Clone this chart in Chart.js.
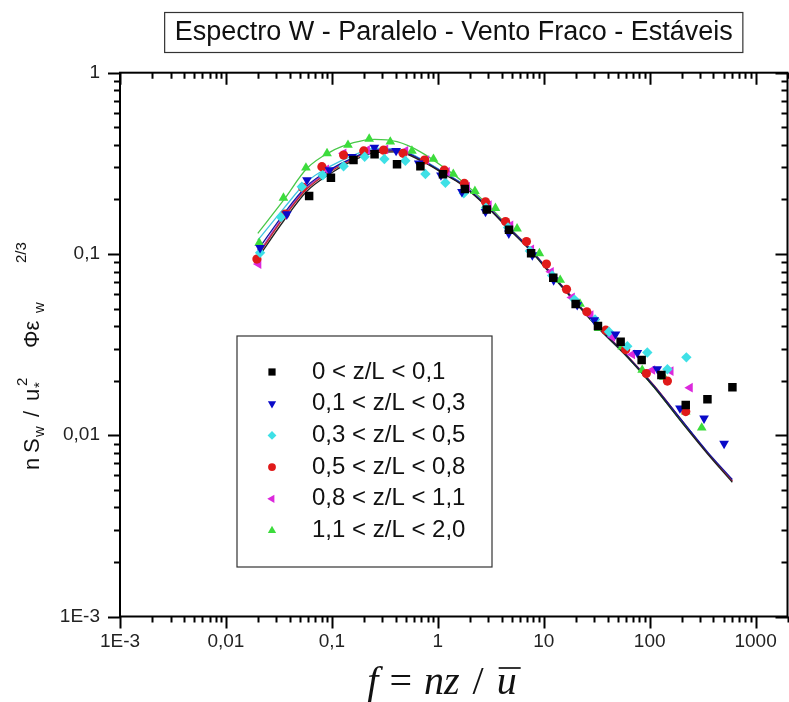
<!DOCTYPE html>
<html><head><meta charset="utf-8">
<script src="https://cdn.jsdelivr.net/npm/chart.js@4.4.0/dist/chart.umd.min.js"></script>
<style>html,body{margin:0;padding:0;background:#fff}#wrap{width:789px;height:702px;position:relative}</style>
</head><body><div id="wrap"><canvas id="c" width="789" height="702"></canvas></div>
<script>
const titleText = 'Espectro W - Paralelo - Vento Fraco - Estáveis';
const seriesLabels = ['0 < z/L < 0,1', '0,1 < z/L < 0,3', '0,3 < z/L < 0,5', '0,5 < z/L < 0,8', '0,8 < z/L < 1,1', '1,1 < z/L < 2,0'];
const xTickValues = [0.001, 0.01, 0.1, 1, 10, 100, 1000];
const xTickLabels = ['1E-3', '0,01', '0,1', '1', '10', '100', '1000'];
const yTickValues = [0.001, 0.01, 0.1, 1];
const yTickLabels = ['1E-3', '0,01', '0,1', '1'];

// measured points
const blackX = [0.061, 0.098, 0.160, 0.253, 0.412, 0.685, 1.12, 1.80, 2.90, 4.70, 7.60, 12.3, 20.0, 32.5, 53.2, 84.0, 129, 219, 351, 604];
const blackY = [0.209, 0.263, 0.330, 0.355, 0.313, 0.305, 0.275, 0.228, 0.176, 0.136, 0.101, 0.074, 0.053, 0.040, 0.0328, 0.0260, 0.0215, 0.0147, 0.0158, 0.0184];
const blueX = [0.021, 0.0376, 0.0582, 0.095, 0.155, 0.252, 0.404, 0.66, 1.07, 1.69, 2.82, 4.68, 7.8, 12.4, 20.7, 30, 47.6, 76.5, 118, 193, 326, 504];
const blueY = [0.108, 0.166, 0.256, 0.290, 0.344, 0.387, 0.371, 0.316, 0.272, 0.220, 0.171, 0.130, 0.0985, 0.0718, 0.0523, 0.0432, 0.0361, 0.0285, 0.0232, 0.0141, 0.0124, 0.0090];
const cyanX = [0.021, 0.033, 0.052, 0.082, 0.129, 0.204, 0.313, 0.494, 0.764, 1.18, 1.76, 2.85, 4.6, 7.4, 12.0, 19.5, 30.5, 41.3, 61.5, 95, 147, 222];
const cyanY = [0.1015, 0.160, 0.235, 0.272, 0.305, 0.344, 0.334, 0.327, 0.276, 0.247, 0.216, 0.180, 0.140, 0.104, 0.076, 0.056, 0.0435, 0.0372, 0.0310, 0.0286, 0.0231, 0.0269];
const redX = [0.0196, 0.0363, 0.053, 0.0805, 0.129, 0.2, 0.308, 0.47, 0.75, 1.15, 1.78, 2.82, 4.36, 6.87, 10.6, 16.4, 25.5, 38.5, 59.3, 93, 147, 219];
const redY = [0.0937, 0.166, 0.233, 0.303, 0.351, 0.370, 0.374, 0.359, 0.330, 0.290, 0.245, 0.194, 0.151, 0.117, 0.088, 0.0638, 0.048, 0.038, 0.0297, 0.0219, 0.0199, 0.0135];
const magX = [0.0203, 0.0355, 0.054, 0.0885, 0.129, 0.215, 0.32, 0.494, 0.78, 1.22, 1.89, 3.03, 4.85, 7.62, 11.7, 18.5, 27.7, 44.4, 68.5, 106, 158, 240];
const magY = [0.088, 0.164, 0.235, 0.293, 0.359, 0.374, 0.378, 0.371, 0.330, 0.284, 0.235, 0.186, 0.144, 0.106, 0.0798, 0.0576, 0.046, 0.0349, 0.0279, 0.0229, 0.0226, 0.0183];
const greenX = [0.0206, 0.0349, 0.0569, 0.090, 0.142, 0.225, 0.356, 0.57, 0.91, 1.40, 2.24, 3.5, 5.6, 9.1, 14.3, 22, 33, 55, 85, 136, 219, 310];
const greenY = [0.115, 0.204, 0.299, 0.359, 0.399, 0.431, 0.416, 0.370, 0.334, 0.276, 0.222, 0.179, 0.138, 0.1007, 0.0718, 0.053, 0.0389, 0.0308, 0.0229, 0.021, 0.0135, 0.011];

// fitted curves
const fitX = [0.02, 0.035, 0.058, 0.097, 0.16, 0.253, 0.412, 0.685, 1.22, 1.64, 2.93, 4.52, 7.5, 11.6, 19.2, 32, 61.5, 110, 196, 351, 603];
const fitBlackY = [0.095, 0.152, 0.222, 0.278, 0.328, 0.362, 0.366, 0.328, 0.270, 0.243, 0.181, 0.140, 0.104, 0.0775, 0.0553, 0.0395, 0.0270, 0.0184, 0.0120, 0.0079, 0.0055];
const fitBlueY = [0.105, 0.166, 0.237, 0.293, 0.340, 0.375, 0.374, 0.333, 0.273, 0.246, 0.183, 0.142, 0.106, 0.0785, 0.0560, 0.0400, 0.0273, 0.0187, 0.0123, 0.0081, 0.0057];
const fitCyanX = [0.02, 0.035, 0.058, 0.097, 0.16, 0.253, 0.412, 0.685, 1.22, 1.64, 2.93, 4.52, 7.5, 11.6, 19.2, 32, 61.5, 110, 196, 250];
const fitCyanY = [0.119, 0.178, 0.250, 0.305, 0.350, 0.382, 0.380, 0.336, 0.275, 0.247, 0.183, 0.141, 0.105, 0.078, 0.0557, 0.0397, 0.0271, 0.0185, 0.0121, 0.0103];
const fitRedY = [0.098, 0.158, 0.228, 0.285, 0.334, 0.369, 0.370, 0.330, 0.272, 0.245, 0.183, 0.142, 0.106, 0.079, 0.0563, 0.0402, 0.0275, 0.0188, 0.0123, 0.0080, 0.0056];
const fitMagY = [0.100, 0.161, 0.232, 0.289, 0.338, 0.374, 0.376, 0.334, 0.275, 0.247, 0.184, 0.142, 0.106, 0.0785, 0.0560, 0.0399, 0.0272, 0.0186, 0.0122, 0.0080, 0.0056];
const fitGreenX = [0.02, 0.035, 0.058, 0.097, 0.16, 0.253, 0.412, 0.685, 1.22, 1.64, 2.93, 4.52, 7.5, 11.6, 19.2, 32, 61.5, 110, 196, 310];
const fitGreenY = [0.130, 0.198, 0.296, 0.366, 0.411, 0.429, 0.416, 0.366, 0.292, 0.256, 0.188, 0.144, 0.106, 0.0785, 0.0557, 0.0396, 0.0270, 0.0184, 0.0120, 0.0087];

const pointX = [blackX, blueX, cyanX, redX, magX, greenX];
const pointY = [blackY, blueY, cyanY, redY, magY, greenY];
const lineX = [fitX, fitX, fitCyanX, fitX, fitX, fitGreenX];
const lineY = [fitBlackY, fitBlueY, fitCyanY, fitRedY, fitMagY, fitGreenY];

const pointColors = ['#000000', '#0a0ac8', '#3ee0e6', '#e01a1a', '#dc28dc', '#3cdc3c'];
const lineColors = ['#222222', '#1414a0', '#40c4e0', '#c02828', '#b434c4', '#48c848'];
const pointStyles = ['rect', 'triangle', 'rectRot', 'circle', 'triangle', 'triangle'];
const pointRotations = [0, 180, 0, 0, 270, 0];
const pointRadii = [6, 5.6, 5.2, 4.6, 5.6, 5.6];

const SANS = '"Liberation Sans", Arial, sans-serif';
const SERIF = '"Liberation Serif", "Times New Roman", serif';

function pts(xs, ys) { return xs.map((x, i) => ({ x: x, y: ys[i] })); }
function isMajor(v) { const l = Math.log10(v); return Math.abs(l - Math.round(l)) < 1e-9; }
function logTicks(min, max) {
  const out = [];
  for (let e = -4; e <= 4; e++) for (let m = 1; m <= 9; m++) {
    const v = Number((m * Math.pow(10, e)).toPrecision(6));
    if (v >= min * 0.9999 && v <= max * 1.0001) out.push({ value: v });
  }
  return out;
}
function labelFor(v, vals, labs) {
  const i = vals.findIndex(t => Math.abs(Math.log10(t) - Math.log10(v)) < 1e-6);
  return i >= 0 ? labs[i] : '';
}

const datasets = [];
for (let i = 0; i < 6; i++) {
  datasets.push({
    label: seriesLabels[i], data: pts(pointX[i], pointY[i]), showLine: false,
    pointStyle: pointStyles[i], rotation: pointRotations[i], pointRadius: pointRadii[i],
    backgroundColor: pointColors[i], borderColor: pointColors[i], borderWidth: 0, order: 0
  });
}
for (let i = 0; i < 6; i++) {
  datasets.push({
    label: 'fit ' + seriesLabels[i], data: pts(lineX[i], lineY[i]), showLine: true,
    pointRadius: 0, borderColor: lineColors[i], borderWidth: 1.3, fill: false,
    cubicInterpolationMode: 'monotone', order: 1
  });
}

const TITLE_FONT = '27px ' + SANS;

const decorPlugin = {
  id: 'decor',
  afterDraw(chart) {
    const { ctx, chartArea: a, scales: { x, y } } = chart;
    ctx.save();
    // frame
    ctx.strokeStyle = '#000'; ctx.lineWidth = 2;
    ctx.strokeRect(a.left, a.top, a.right - a.left, a.bottom - a.top);
    ctx.beginPath();
    x.ticks.forEach(t => {
      const px = Math.round(x.getPixelForValue(t.value)) + 0.5;
      const L = isMajor(t.value) ? 12 : 6;
      ctx.moveTo(px, a.bottom); ctx.lineTo(px, a.bottom + L);
      ctx.moveTo(px, a.top); ctx.lineTo(px, a.top + L);
    });
    y.ticks.forEach(t => {
      const py = Math.round(y.getPixelForValue(t.value)) + 0.5;
      const L = isMajor(t.value) ? 12 : 6;
      ctx.moveTo(a.left, py); ctx.lineTo(a.left - L, py);
      ctx.moveTo(a.right, py); ctx.lineTo(a.right - L, py);
    });
    ctx.stroke();

    // title border
    ctx.font = TITLE_FONT;
    const tw = ctx.measureText(titleText).width;
    const cx = (a.left + a.right) / 2;
    ctx.strokeStyle = '#333'; ctx.lineWidth = 1.2;
    ctx.strokeRect(cx - tw / 2 - 10, 12.5, tw + 20, 40);

    // legend
    const lx = 237, ly = 336, lw = 255, lh = 231;
    ctx.fillStyle = '#fff'; ctx.fillRect(lx, ly, lw, lh);
    ctx.strokeStyle = '#333'; ctx.lineWidth = 1.2; ctx.strokeRect(lx, ly, lw, lh);
    ctx.font = '24px ' + SANS; ctx.textBaseline = 'middle'; ctx.textAlign = 'left';
    for (let i = 0; i < 6; i++) {
      const ry = 372 + i * 31.7;
      ctx.fillStyle = pointColors[i];
      Chart.helpers.drawPoint(ctx, { pointStyle: pointStyles[i], rotation: pointRotations[i], radius: pointRadii[i] * 0.85, borderWidth: 0 }, 272, ry);
      ctx.fillStyle = '#111';
      ctx.fillText(seriesLabels[i], 312, ry);
    }

    // y axis title with sub/superscripts (offsets measured upward from the bottom of the title)
    const main = '22px ' + SANS, small = '15px ' + SANS;
    const ySegs = [
      { t: 'n', f: main, at: 0, dy: 0 }, { t: 'S', f: main, at: 17, dy: 0 },
      { t: 'w', f: small, at: 33, dy: 7 }, { t: '/', f: main, at: 53, dy: 0 },
      { t: 'u', f: main, at: 69, dy: 0 }, { t: '*', f: small, at: 82, dy: 7 },
      { t: '2', f: small, at: 84, dy: -10 }, { t: '\u03A6\u03B5', f: main, at: 122, dy: 0 },
      { t: 'w', f: small, at: 157, dy: 7 }, { t: '2/3', f: small, at: 207, dy: -11 }
    ];
    ctx.save();
    ctx.translate(33, 470); ctx.rotate(-Math.PI / 2);
    ctx.fillStyle = '#111'; ctx.textBaseline = 'middle'; ctx.textAlign = 'left';
    ySegs.forEach(s => { ctx.font = s.f; ctx.fillText(s.t, s.at, s.dy); });
    ctx.restore();

    // x axis title  f = nz / u(bar)
    const it = 'italic 40px ' + SERIF, up = '40px ' + SERIF;
    const xs = [{ t: 'f', f: it }, { g: 11 }, { t: '=', f: up }, { g: 12 }, { t: 'nz', f: it }, { g: 13 }, { t: '/', f: up }, { g: 13 }, { t: 'u', f: it, bar: true }];
    let tot = 0;
    xs.forEach(s => { if (s.g) { s.w = s.g; } else { ctx.font = s.f; s.w = ctx.measureText(s.t).width; } tot += s.w; });
    let x0 = 442 - tot / 2;
    const base = 694;
    ctx.fillStyle = '#111'; ctx.textBaseline = 'alphabetic';
    xs.forEach(s => {
      if (!s.g) {
        ctx.font = s.f; ctx.fillText(s.t, x0, base);
        if (s.bar) { ctx.strokeStyle = '#111'; ctx.lineWidth = 1.7; ctx.beginPath(); ctx.moveTo(x0 + 2, base - 26); ctx.lineTo(x0 + s.w + 4, base - 26); ctx.stroke(); }
      }
      x0 += s.w;
    });
    ctx.restore();
  }
};

new Chart(document.getElementById('c'), {
  type: 'scatter',
  data: { datasets: datasets },
  options: {
    responsive: false, animation: false,
    layout: { autoPadding: false, padding: { left: 0, right: 1.5, top: 0, bottom: 0 } },
    plugins: {
      legend: { display: false }, tooltip: { enabled: false },
      title: { display: true, text: titleText, fullSize: false, color: '#111',
        font: { size: 27, family: SANS, weight: 'normal', lineHeight: 1.2 },
        padding: { top: 16, bottom: 24.3 } }
    },
    scales: {
      x: {
        type: 'logarithmic', min: 0.001, max: 2000,
        afterBuildTicks: s => { s.ticks = logTicks(0.001, 2000); },
        afterFit: s => { s.height = 85.5; s.paddingLeft = 0; s.paddingRight = 0; },
        grid: { display: false, drawTicks: false }, border: { display: false },
        ticks: { autoSkip: false, maxRotation: 0, minRotation: 0, padding: 14, color: '#222',
          font: { size: 19, family: SANS }, callback: v => labelFor(v, xTickValues, xTickLabels) }
      },
      y: {
        type: 'logarithmic', min: 0.001, max: 1,
        afterBuildTicks: s => { s.ticks = logTicks(0.001, 1); },
        afterFit: s => { s.width = 120; s.paddingTop = 0; s.paddingBottom = 0; },
        grid: { display: false, drawTicks: false }, border: { display: false },
        ticks: { autoSkip: false, padding: 20, color: '#222',
          font: { size: 19, family: SANS }, callback: v => labelFor(v, yTickValues, yTickLabels) }
      }
    }
  },
  plugins: [decorPlugin]
});
</script></body></html>
